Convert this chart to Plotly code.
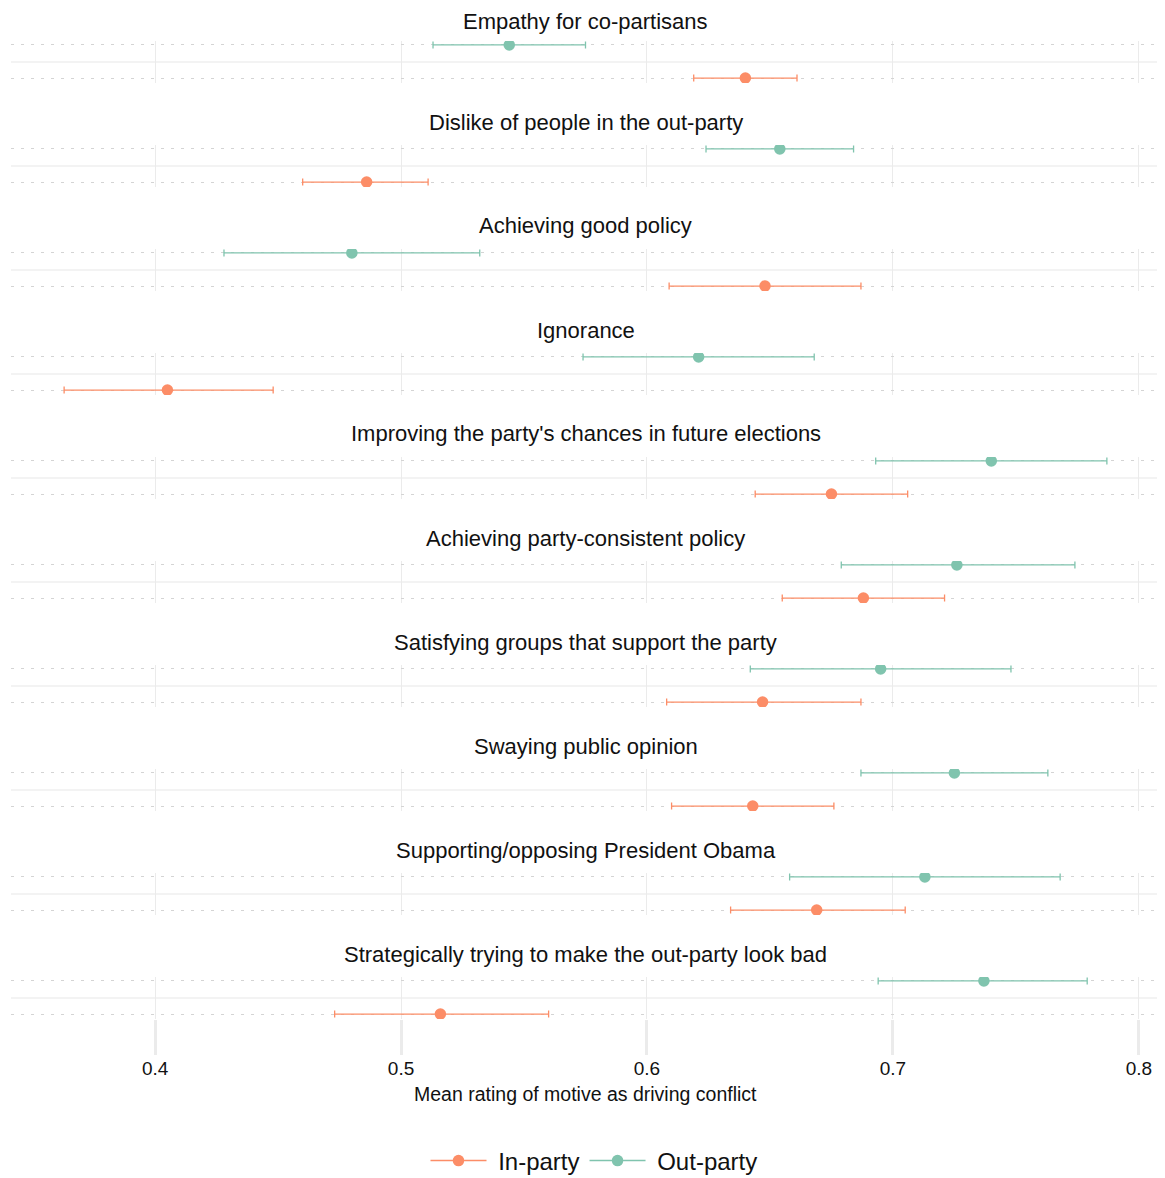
import plotly.graph_objects as go
from plotly.subplots import make_subplots

categories = [
    "Empathy for co-partisans",
    "Dislike of people in the out-party",
    "Achieving good policy",
    "Ignorance",
    "Improving the party's chances in future elections",
    "Achieving party-consistent policy",
    "Satisfying groups that support the party",
    "Swaying public opinion",
    "Supporting/opposing President Obama",
    "Strategically trying to make the out-party look bad",
]

in_mean = [0.640, 0.486, 0.648, 0.405, 0.675, 0.688, 0.647, 0.643, 0.669, 0.516]
in_lo   = [0.619, 0.460, 0.609, 0.363, 0.644, 0.655, 0.608, 0.610, 0.634, 0.473]
in_hi   = [0.661, 0.511, 0.687, 0.448, 0.706, 0.721, 0.687, 0.676, 0.705, 0.560]

out_mean = [0.544, 0.654, 0.480, 0.621, 0.740, 0.726, 0.695, 0.725, 0.713, 0.737]
out_lo   = [0.513, 0.624, 0.428, 0.574, 0.693, 0.679, 0.642, 0.687, 0.658, 0.694]
out_hi   = [0.575, 0.684, 0.532, 0.668, 0.787, 0.774, 0.748, 0.763, 0.768, 0.779]

x_ticks = [0.4, 0.5, 0.6, 0.7, 0.8]
x_tick_labels = ["0.4", "0.5", "0.6", "0.7", "0.8"]

series_names = ["In-party", "Out-party"]

IN_COLOR = "#FC8D67"
OUT_COLOR = "#80C4AE"
FONT = "Liberation Sans, Arial, sans-serif"

W, H = 1165, 1178
OFF = 8  # page body margin
n = len(categories)
fig = make_subplots(rows=n, cols=1, shared_xaxes=True, vertical_spacing=0.0)

for k in range(n):
    r = k + 1
    fig.add_trace(go.Scatter(
        x=[out_mean[k]], y=[2], mode="lines+markers", name="\u00a0" + series_names[1],
        legendgroup="out", showlegend=(k == 0), legendrank=2,
        marker=dict(color=OUT_COLOR, size=11.5), line=dict(color=OUT_COLOR, width=1.5),
        error_x=dict(type="data", symmetric=False,
                     array=[out_hi[k] - out_mean[k]], arrayminus=[out_mean[k] - out_lo[k]],
                     color=OUT_COLOR, thickness=1.3, width=3.5),
        hoverinfo="skip"), row=r, col=1)
    fig.add_trace(go.Scatter(
        x=[in_mean[k]], y=[1], mode="lines+markers", name="\u00a0" + series_names[0],
        legendgroup="in", showlegend=(k == 0), legendrank=1,
        marker=dict(color=IN_COLOR, size=11.5), line=dict(color=IN_COLOR, width=1.5),
        error_x=dict(type="data", symmetric=False,
                     array=[in_hi[k] - in_mean[k]], arrayminus=[in_mean[k] - in_lo[k]],
                     color=IN_COLOR, thickness=1.3, width=3.5),
        hoverinfo="skip"), row=r, col=1)


def px_x(p):
    return (p - OFF) / W


def px_y(p):
    return 1 - (p - OFF) / H


annotations = []
for k in range(n):
    top = 41 + 104 * k
    bot = 83 + 104 * k
    yname = "yaxis" if k == 0 else f"yaxis{k+1}"
    xname = "xaxis" if k == 0 else f"xaxis{k+1}"
    fig.layout[yname].update(
        domain=[px_y(bot), px_y(top)], range=[0.85, 2.12],
        tickvals=[1, 2], showticklabels=False, ticks="",
        showgrid=True, gridcolor="#d4d4d4", gridwidth=1, griddash="3px,7px",
        zeroline=False, showline=False, fixedrange=True,
        minor=dict(tick0=0.5, dtick=1, showgrid=True, gridcolor="#f3f3f3",
                   gridwidth=2, griddash="solid", ticks=""),
    )
    fig.layout[xname].update(
        domain=[px_x(11), px_x(1160)], range=[0.3414, 0.8086],
        tickvals=x_ticks, ticktext=x_tick_labels,
        showgrid=True, gridcolor="#ebebeb", gridwidth=1,
        zeroline=False, showline=False,
        showticklabels=(k == n - 1),
        ticks="outside" if k == n - 1 else "",
        ticklen=35, tickwidth=3, tickcolor="#ebebeb",
        ticklabelstandoff=-3 if k == n - 1 else 0,
        tickfont=dict(size=19, color="#111111", family=FONT),
    )
    ty = 18 + 104 * k if k > 0 else 21
    annotations.append(dict(
        text=categories[k], x=px_x(585.5), y=px_y(ty),
        xref="paper", yref="paper", xanchor="center", yanchor="middle",
        showarrow=False, font=dict(size=22, color="#111111", family=FONT)))

annotations.append(dict(
    text="Mean rating of motive as driving conflict", x=px_x(585.5), y=px_y(1094),
    xref="paper", yref="paper", xanchor="center", yanchor="middle",
    showarrow=False, font=dict(size=19.5, color="#111111", family=FONT)))

fig.update_layout(
    width=W, height=H,
    margin=dict(l=0, r=0, t=0, b=0),
    plot_bgcolor="white", paper_bgcolor="white",
    annotations=annotations,
    legend=dict(orientation="h", x=px_x(594), xanchor="center", y=px_y(1161), yanchor="middle",
                font=dict(size=24, color="#111111", family=FONT),
                traceorder="normal", itemwidth=56),
    font=dict(family=FONT),
)

fig.write_html("out.html")
